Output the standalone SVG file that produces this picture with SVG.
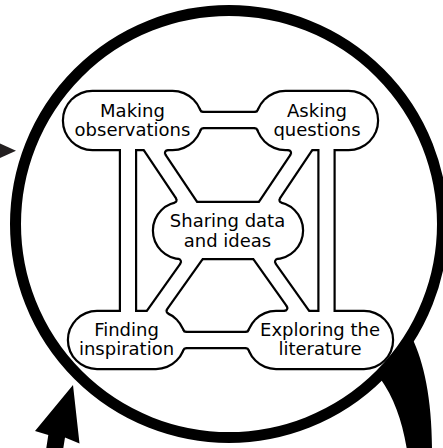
<svg xmlns="http://www.w3.org/2000/svg" width="443" height="448" viewBox="0 0 443 448">
<style>
  .ol{fill:#000;stroke:#000;stroke-width:4.4;stroke-linejoin:round}
  .fl{fill:#fff;stroke:none}
  .t{font-family:"DejaVu Sans",Verdana,sans-serif;font-size:18px;fill:#000;text-anchor:middle}
  .blk{fill:#000;stroke:none}
</style>
<defs>
  <rect id="s-mk" x="64" y="92" width="137" height="57" rx="28.5"/>
  <rect id="s-ak" x="257" y="92" width="120" height="57" rx="28.5"/>
  <rect id="s-sh" x="154" y="203" width="148" height="55" rx="27.5"/>
  <rect id="s-fi" x="69" y="312" width="115" height="56" rx="28"/>
  <rect id="s-ex" x="248" y="312" width="144" height="56" rx="28"/>
  <rect id="b-top" x="180" y="113" width="100" height="14"/>
  <rect id="b-bot" x="165" y="333" width="105" height="14"/>
  <rect id="b-left" x="121" y="130" width="14" height="200"/>
  <rect id="b-right" x="319.5" y="130" width="14" height="200"/>
  <polygon id="b-d1" points="131.6,130 147.6,130 211.25,225 195.25,225"/>
  <polygon id="b-d2" points="308.4,130 324.4,130 260.75,225 244.75,225"/>
  <polygon id="b-d3" points="198.5,240 214.9,240 151,330 134.6,330"/>
  <polygon id="b-d4" points="241.1,240 257.5,240 321.4,330 305,330"/>
  <g id="fillets">
    <path d="M199.16,110.42 A4,4 0 0 0 202.9,113 L196,120 Z"/>
    <path d="M199.47,129.71 A4,4 0 0 1 203.26,127 L196,120 Z"/>
    <path d="M258.84,110.42 A4,4 0 0 1 255.1,113 L262,120 Z"/>
    <path d="M258.53,129.71 A4,4 0 0 0 254.74,127 L262,120 Z"/>
    <path d="M182.29,330.38 A4,4 0 0 0 186.05,333 L179,340 Z"/>
    <path d="M182.29,349.63 A4,4 0 0 1 186.05,347 L179,340 Z"/>
    <path d="M249.71,330.38 A4,4 0 0 1 245.95,333 L253,340 Z"/>
    <path d="M249.71,349.63 A4,4 0 0 0 245.95,347 L253,340 Z"/>
    <path d="M177.01,197.77 A4,4 0 0 1 174.68,203.87 L190,206 Z"/>
    <path d="M278.99,197.77 A4,4 0 0 0 281.32,203.87 L266,206 Z"/>
    <path d="M178.53,257.83 A4,4 0 0 1 181.36,264.13 L195,250 Z"/>
    <path d="M277.47,257.83 A4,4 0 0 0 274.64,264.13 L261,250 Z"/>
    <path d="M166.17,308.63 A4,4 0 0 0 167.75,314.58 L150,325 Z"/>
    <path d="M167.83,149 A4,4 0 0 0 164.51,155.23 L150,140 Z"/>
    <path d="M288.17,149 A4,4 0 0 1 291.49,155.23 L306,140 Z"/>
    <path d="M287.73,305.68 A4,4 0 0 1 284.47,312 L305,318 Z"/>
  </g>
</defs>

<g id="cycle">
  <circle cx="229" cy="224" r="213.5" fill="none" stroke="#000" stroke-width="11"/>
  <polygon points="-2,142.5 16,150.7 -2,159" fill="#231f20"/>
  <polygon class="blk" points="73,385 79.5,443.5 65,437.5 63,450 46,450 48.3,435 35,431"/>
  <path class="blk" d="M412,338 C424,362 432,400 432,450 L407,450 C402,420 394,398 380,378 Z"/>
</g>

<g id="outlines">
  <use href="#b-top" class="ol"/>
  <use href="#b-bot" class="ol"/>
  <use href="#b-left" class="ol"/>
  <use href="#b-right" class="ol"/>
  <use href="#b-d1" class="ol"/>
  <use href="#b-d2" class="ol"/>
  <use href="#b-d3" class="ol"/>
  <use href="#b-d4" class="ol"/>
  <use href="#fillets" class="ol"/>
  <use href="#s-mk" class="ol"/>
  <use href="#s-ak" class="ol"/>
  <use href="#s-sh" class="ol"/>
  <use href="#s-fi" class="ol"/>
  <use href="#s-ex" class="ol"/>
</g>

<g id="connectors">
  <use href="#b-top" class="fl"/>
  <use href="#b-bot" class="fl"/>
  <use href="#b-left" class="fl"/>
  <use href="#b-right" class="fl"/>
  <use href="#b-d1" class="fl"/>
  <use href="#b-d2" class="fl"/>
  <use href="#b-d3" class="fl"/>
  <use href="#b-d4" class="fl"/>
  <use href="#fillets" class="fl"/>
</g>

<g id="node-making">
  <use href="#s-mk" class="fl"/>
  <text class="t" x="132.5" y="117">Making</text>
  <text class="t" x="132.5" y="136">observations</text>
</g>
<g id="node-asking">
  <use href="#s-ak" class="fl"/>
  <text class="t" x="317" y="117">Asking</text>
  <text class="t" x="317" y="136">questions</text>
</g>
<g id="node-sharing">
  <use href="#s-sh" class="fl"/>
  <text class="t" x="227.5" y="227">Sharing data</text>
  <text class="t" x="227.5" y="246.5">and ideas</text>
</g>
<g id="node-finding">
  <use href="#s-fi" class="fl"/>
  <text class="t" x="126.5" y="335.5">Finding</text>
  <text class="t" x="126.5" y="354.5">inspiration</text>
</g>
<g id="node-exploring">
  <use href="#s-ex" class="fl"/>
  <text class="t" x="320" y="335.5">Exploring the</text>
  <text class="t" x="320" y="354.5">literature</text>
</g>
</svg>
